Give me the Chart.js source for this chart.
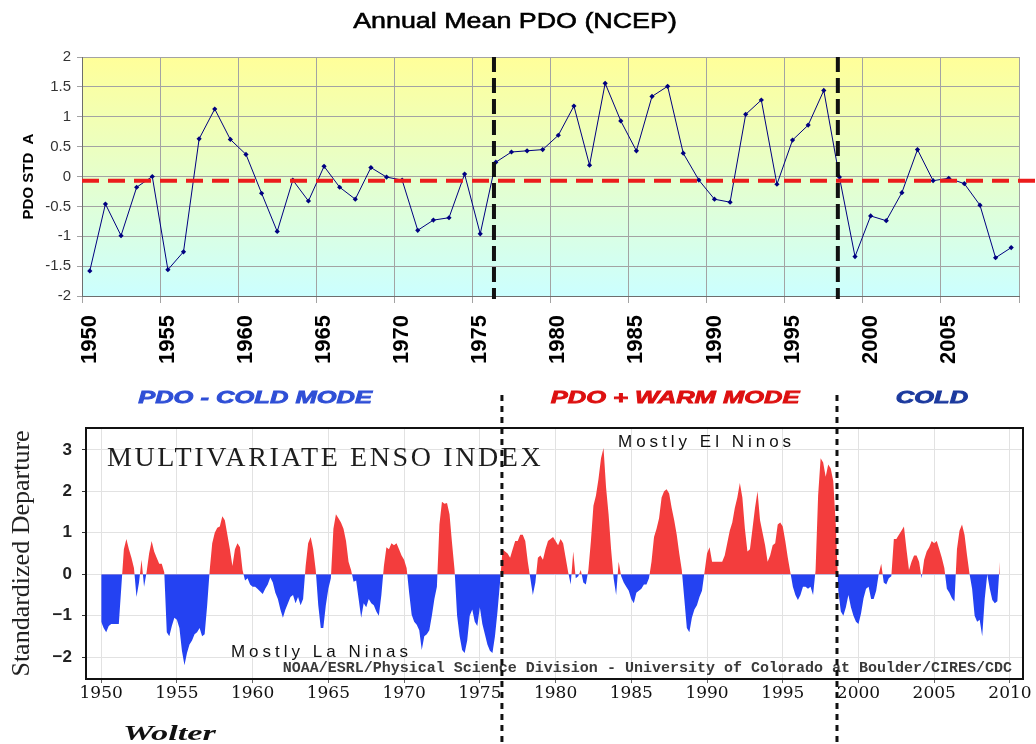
<!DOCTYPE html>
<html><head><meta charset="utf-8">
<script src="https://cdn.jsdelivr.net/npm/chart.js@4.4.1/dist/chart.umd.min.js"></script>
<style>
html,body{margin:0;padding:0;background:#fff;width:1036px;height:744px;overflow:hidden}
#top{position:absolute;left:0;top:0;width:1036px;height:380px}
#bot{position:absolute;left:0;top:380px;width:1036px;height:364px}
</style></head><body>
<div id="top"><canvas id="c1"></canvas></div>
<div id="bot"><canvas id="c2"></canvas></div>
<script>
// ---------- Top chart data: Annual Mean PDO (NCEP) ----------
const pdoYears = ['1950','1951','1952','1953','1954','1955','1956','1957','1958','1959',
  '1960','1961','1962','1963','1964','1965','1966','1967','1968','1969',
  '1970','1971','1972','1973','1974','1975','1976','1977','1978','1979',
  '1980','1981','1982','1983','1984','1985','1986','1987','1988','1989',
  '1990','1991','1992','1993','1994','1995','1996','1997','1998','1999',
  '2000','2001','2002','2003','2004','2005','2006','2007','2008','2009'];
const pdoValues = [-1.58,-0.46,-0.99,-0.18,0.00,-1.56,-1.26,0.63,1.13,0.62,
  0.37,-0.28,-0.92,-0.06,-0.41,0.17,-0.18,-0.38,0.15,-0.01,
  -0.06,-0.90,-0.73,-0.69,0.04,-0.96,0.24,0.41,0.43,0.45,
  0.69,1.18,0.19,1.56,0.93,0.43,1.34,1.51,0.39,-0.06,
  -0.38,-0.43,1.04,1.28,-0.13,0.61,0.86,1.44,-0.01,-1.34,
  -0.66,-0.74,-0.27,0.45,-0.07,-0.03,-0.12,-0.48,-1.36,-1.19];
const pdoMean = -0.07;
const pdoTitle = 'Annual Mean PDO (NCEP)';
const pdoAxisTitle = 'PDO STD  A';
const shiftYearsTop = [1976.38, 1998.4];

// ---------- Bottom chart data: Multivariate ENSO Index (6 values per year from 1950) ----------
const meiStart = 1950;
const meiPerYear = 6;
const meiValues = [
  -1.15,-1.3,-1.4,-1.25,-1.2,-1.2,     // 1950
  -1.2,-1.2,-0.3,0.6,0.85,0.6,         // 1951
  0.4,0.15,-0.55,-0.2,0.35,-0.3,       // 1952
  0.05,0.5,0.8,0.55,0.4,0.25,          // 1953
  0.25,0.05,-1.4,-1.5,-1.25,-1.05,     // 1954
  -1.1,-1.3,-1.85,-2.2,-1.9,-1.7,      // 1955
  -1.6,-1.45,-1.4,-1.3,-1.5,-1.45,     // 1956
  -0.75,0.1,0.75,1.0,1.12,1.15,        // 1957
  1.4,1.3,0.95,0.6,0.2,0.6,            // 1958
  0.75,0.65,0.1,-0.15,-0.1,-0.25,      // 1959
  -0.3,-0.3,-0.36,-0.42,-0.48,-0.35,   // 1960
  -0.25,-0.08,-0.2,-0.45,-0.6,-0.85,   // 1961
  -1.05,-0.85,-0.7,-0.55,-0.5,-0.7,    // 1962
  -0.55,-0.75,-0.6,0.2,0.75,0.9,       // 1963
  0.6,0.1,-0.75,-1.3,-1.3,-0.75,       // 1964
  -0.35,-0.1,1.1,1.45,1.35,1.25,       // 1965
  1.1,0.8,0.3,0.1,-0.18,-0.15,         // 1966
  -0.6,-1.05,-0.7,-0.8,-0.6,-0.7,      // 1967
  -0.75,-0.9,-1.0,-0.5,0.2,0.65,       // 1968
  0.6,0.75,0.7,0.75,0.6,0.45,          // 1969
  0.35,0.15,-0.45,-0.98,-1.15,-1.22,   // 1970
  -1.35,-1.83,-1.5,-1.45,-1.35,-1.0,   // 1971
  -0.6,-0.3,1.2,1.75,1.7,1.72,         // 1972
  1.45,0.75,0.1,-1.0,-1.5,-1.83,       // 1973
  -1.9,-1.6,-1.0,-0.85,-1.15,-1.25,    // 1974
  -0.8,-1.2,-1.45,-1.7,-1.85,-1.9,     // 1975
  -1.5,-0.9,-0.2,0.6,0.55,0.5,         // 1976
  0.4,0.6,0.8,0.8,0.95,0.95,           // 1977
  0.8,0.3,-0.1,-0.5,-0.2,0.4,          // 1978
  0.45,0.35,0.6,0.8,0.85,0.9,          // 1979
  0.8,0.7,0.85,0.75,0.4,0.05,          // 1980
  -0.25,0.55,-0.1,-0.05,0.1,-0.2,      // 1981
  -0.25,0.1,0.8,1.65,1.9,2.3,          // 1982
  2.8,3.05,2.1,1.45,0.6,-0.1,          // 1983
  -0.5,0.3,-0.05,-0.2,-0.3,-0.4,       // 1984
  -0.6,-0.7,-0.45,-0.4,-0.35,-0.25,    // 1985
  -0.25,-0.1,0.3,0.9,1.1,1.35,         // 1986
  1.85,2.0,2.05,1.95,1.6,1.3,          // 1987
  0.95,0.5,0.1,-0.6,-1.3,-1.4,         // 1988
  -1.05,-0.85,-0.75,-0.55,-0.4,0.05,   // 1989
  0.5,0.65,0.3,0.3,0.3,0.3,            // 1990
  0.3,0.45,0.75,1.05,1.25,1.6,         // 1991
  1.85,2.2,1.85,1.1,0.55,0.6,          // 1992
  1.1,1.6,2.0,1.3,1.0,0.7,             // 1993
  0.3,0.45,0.7,0.75,1.2,1.25,          // 1994
  1.15,0.8,0.4,0.05,-0.3,-0.5,         // 1995
  -0.62,-0.5,-0.3,-0.3,-0.35,-0.3,     // 1996
  -0.5,0.1,1.9,2.8,2.7,2.35,           // 1997
  2.65,2.55,2.25,1.2,-0.4,-0.9,        // 1998
  -1.0,-0.8,-0.5,-0.8,-1.0,-1.15,      // 1999
  -1.2,-0.95,-0.58,-0.35,-0.3,-0.6,    // 2000
  -0.6,-0.4,0.0,0.25,-0.2,-0.25,       // 2001
  -0.1,-0.05,0.85,0.85,0.95,1.05,      // 2002
  1.15,0.6,0.1,0.3,0.45,0.45,          // 2003
  0.3,-0.1,0.35,0.55,0.65,0.8,         // 2004
  0.75,0.8,0.6,0.4,0.15,-0.35,         // 2005
  -0.45,-0.58,-0.66,0.6,1.05,1.2,      // 2006
  0.95,0.45,0.0,-0.35,-1.0,-1.15,      // 2007
  -1.1,-1.5,-0.6,0.0,-0.35,-0.62,      // 2008
  -0.7,-0.65,0.3                       // 2009
];
const meiXTicks = [1950,1955,1960,1965,1970,1975,1980,1985,1990,1995,2000,2005,2010];
const meiYTicks = [-2,-1,0,1,2,3];
const meiXRange = [1949.0, 2010.86];
const meiYRange = [-2.53, 3.53];
const shiftYearsBottom = [1976.46, 1998.58];
const modeLabels = ['PDO - COLD MODE', 'PDO + WARM MODE', 'COLD'];
const modeLabelYears = [1960.16, 1987.89, 2004.85];
const modeColors = ['#2f4fd6', '#dd1010', '#1c3a9e'];
const ensoTitle = 'MULTIVARIATE ENSO INDEX';
const noteElNino = 'Mostly El Ninos';
const noteLaNina = 'Mostly La Ninas';
const creditLine = 'NOAA/ESRL/Physical Science Division - University of Colorado at Boulder/CIRES/CDC';
const authorName = 'Wolter';

function stretchText(ctx, text, x, y, sx, align, baseline, strokeW) {
  ctx.save();
  ctx.translate(x, y);
  ctx.scale(sx, 1);
  ctx.textAlign = align || 'left';
  ctx.textBaseline = baseline || 'middle';
  ctx.fillText(text, 0, 0);
  if (strokeW) { ctx.strokeStyle = ctx.fillStyle; ctx.lineWidth = strokeW; ctx.strokeText(text, 0, 0); }
  ctx.restore();
}
function spaced(ctx, px) { if ('letterSpacing' in ctx) ctx.letterSpacing = px + 'px'; }

// ---------- Top chart ----------
const topDecor = {
  id: 'topDecor',
  beforeDraw(chart) {
    const {ctx, chartArea: a} = chart;
    const g = ctx.createLinearGradient(0, a.top, 0, a.bottom);
    g.addColorStop(0, '#ffff99');
    g.addColorStop(1, '#ccffff');
    ctx.save();
    ctx.fillStyle = g;
    ctx.fillRect(a.left, a.top, a.right - a.left, a.bottom - a.top);
    ctx.restore();
  },
  afterDatasetsDraw(chart) {
    const {ctx, chartArea: a, scales: {x, y}} = chart;
    ctx.save();
    const ym = y.getPixelForValue(pdoMean);
    ctx.strokeStyle = '#ec1c1c';
    ctx.lineWidth = 4;
    ctx.setLineDash([17, 9]);
    ctx.beginPath(); ctx.moveTo(a.left, ym); ctx.lineTo(chart.width, ym); ctx.stroke();
    ctx.strokeStyle = '#111';
    ctx.lineWidth = 4;
    ctx.setLineDash([15, 6]);
    for (const yr of shiftYearsTop) {
      const px = x.getPixelForValue(yr - Number(pdoYears[0]) - 0.5);
      ctx.beginPath(); ctx.moveTo(px, a.top); ctx.lineTo(px, a.bottom + 3); ctx.stroke();
    }
    ctx.restore();
  },
  afterDraw(chart) {
    const {ctx} = chart;
    ctx.save();
    ctx.fillStyle = '#000';
    ctx.font = '22px "Liberation Sans", Arial, sans-serif';
    stretchText(ctx, pdoTitle, chart.width / 2 - 3, 22, 1.22, 'center', 'middle', 0.6);
    ctx.restore();
  }
};

new Chart(document.getElementById('c1'), {
  type: 'line',
  data: {
    labels: pdoYears,
    datasets: [{
      data: pdoValues,
      borderColor: '#000080',
      borderWidth: 1,
      pointStyle: 'rectRot',
      pointRadius: 2.6,
      pointBackgroundColor: '#000080',
      pointBorderColor: '#000080',
      pointBorderWidth: 0,
      tension: 0,
      fill: false
    }]
  },
  options: {
    responsive: true, maintainAspectRatio: false, animation: false, devicePixelRatio: 1,
    layout: {padding: {left: 0, right: 17, top: 57, bottom: 0}},
    plugins: {legend: {display: false}, title: {display: false}, tooltip: {enabled: false}},
    scales: {
      x: {
        type: 'category',
        offset: true,
        grid: {
          offset: true,
          color: c => (c.type === 'scale' || c.index % 5 === 0) ? '#a3a3a3' : 'rgba(0,0,0,0)',
          tickLength: 7
        },
        border: {color: '#6e6e6e'},
        ticks: {
          autoSkip: false, minRotation: 90, maxRotation: 90, padding: 12, color: '#000',
          font: {family: '"Liberation Sans", Arial, sans-serif', size: 22, weight: 'bold'},
          callback: (v, i) => (i % 5 === 0 ? pdoYears[i] : '')
        },
        afterFit: s => { s.height = 84; s.paddingLeft = 0; s.paddingRight = 0; }
      },
      y: {
        min: -2, max: 2,
        ticks: {
          stepSize: 0.5, padding: 6, color: '#333',
          font: {family: '"Liberation Sans", Arial, sans-serif', size: 15},
          callback: v => String(v)
        },
        grid: {color: '#a3a3a3', tickLength: 5},
        border: {color: '#6e6e6e'},
        title: {
          display: true, text: pdoAxisTitle, color: '#000',
          font: {family: '"Liberation Sans", Arial, sans-serif', size: 15, weight: 'bold'},
          padding: {top: 20, bottom: 0}
        },
        afterFit: s => { s.width = 82; s.paddingTop = 0; s.paddingBottom = 0; }
      }
    }
  },
  plugins: [topDecor]
});

// ---------- Bottom chart ----------
const meiPoints = meiValues.map((v, i) => ({x: meiStart + i / meiPerYear, y: v}));

const botDecor = {
  id: 'botDecor',
  afterDatasetsDraw(chart) {
    const {ctx, chartArea: a, scales: {x, y}} = chart;
    ctx.save();
    // frame
    ctx.strokeStyle = '#111';
    ctx.lineWidth = 2;
    ctx.strokeRect(a.left, a.top, a.right - a.left, a.bottom - a.top);
    // titles and notes
    ctx.fillStyle = '#1e1e1e';
    ctx.font = '28px "Liberation Serif", "Times New Roman", serif';
    spaced(ctx, 2.6);
    ctx.textAlign = 'left'; ctx.textBaseline = 'alphabetic';
    ctx.fillText(ensoTitle, x.getPixelForValue(1950.39), y.getPixelForValue(2.62));
    spaced(ctx, 4);
    ctx.font = '17px "Liberation Sans", Arial, sans-serif';
    ctx.fillStyle = '#111';
    ctx.textBaseline = 'middle';
    ctx.fillText(noteElNino, x.getPixelForValue(1984.12), y.getPixelForValue(3.18));
    ctx.fillText(noteLaNina, x.getPixelForValue(1958.57), y.getPixelForValue(-1.88));
    spaced(ctx, 0);
    ctx.font = 'bold 15px "Liberation Mono", "Courier New", monospace';
    ctx.fillStyle = '#3a3a3a';
    ctx.textAlign = 'right';
    ctx.fillText(creditLine, x.getPixelForValue(2010.13), y.getPixelForValue(-2.26));
    // mode labels
    ctx.font = 'italic bold 17px "Liberation Sans", Arial, sans-serif';
    modeLabels.forEach((t, i) => {
      ctx.fillStyle = modeColors[i];
      stretchText(ctx, t, x.getPixelForValue(modeLabelYears[i]), a.top - 30, 1.5, 'center', 'middle', 0.8);
    });
    // author
    ctx.fillStyle = '#111';
    ctx.font = 'italic bold 20px "Liberation Serif", "Times New Roman", serif';
    stretchText(ctx, authorName, x.getPixelForValue(1951.44), chart.height - 9, 1.72, 'left', 'middle');
    // regime shift lines
    ctx.strokeStyle = '#111';
    ctx.lineWidth = 3;
    ctx.setLineDash([6, 5]);
    for (const yr of shiftYearsBottom) {
      const px = x.getPixelForValue(yr);
      ctx.beginPath(); ctx.moveTo(px, a.top - 33); ctx.lineTo(px, chart.height); ctx.stroke();
    }
    ctx.restore();
  }
};

new Chart(document.getElementById('c2'), {
  type: 'line',
  data: {
    datasets: [{
      data: meiPoints,
      borderWidth: 0,
      borderColor: 'rgba(0,0,0,0)',
      pointRadius: 0,
      tension: 0,
      fill: {target: 'origin', above: '#f33d3d', below: '#2442f2'}
    }]
  },
  options: {
    responsive: true, maintainAspectRatio: false, animation: false, devicePixelRatio: 1,
    layout: {padding: {left: 0, right: 13, top: 48, bottom: 0}},
    plugins: {legend: {display: false}, title: {display: false}, tooltip: {enabled: false}},
    scales: {
      x: {
        type: 'linear', min: meiXRange[0], max: meiXRange[1],
        afterBuildTicks: s => { s.ticks = meiXTicks.map(v => ({value: v})); },
        ticks: {
          padding: 0, color: '#111',
          font: {family: '"DejaVu Serif", serif', size: 17},
          callback: v => String(v)
        },
        grid: {color: '#e2e2e2', tickLength: 4, tickColor: '#666'},
        border: {display: false},
        afterFit: s => { s.height = 65; s.paddingLeft = 0; s.paddingRight = 0; }
      },
      y: {
        min: meiYRange[0], max: meiYRange[1],
        afterBuildTicks: s => { s.ticks = meiYTicks.map(v => ({value: v})); },
        ticks: {
          padding: 10, color: '#222',
          font: {family: '"Liberation Sans", Arial, sans-serif', size: 17, weight: 'bold'},
          callback: v => (v < 0 ? '\u2212' + Math.abs(v) : String(v))
        },
        grid: {color: '#e2e2e2', tickLength: 4, tickColor: '#333'},
        border: {display: false},
        title: {
          display: true, text: 'Standardized Departure', color: '#222',
          font: {family: '"Liberation Serif", "Times New Roman", serif', size: 26},
          padding: {top: 7, bottom: 0}
        },
        afterFit: s => { s.width = 86; s.paddingTop = 0; s.paddingBottom = 0; }
      }
    }
  },
  plugins: [botDecor]
});
</script>
</body></html>
